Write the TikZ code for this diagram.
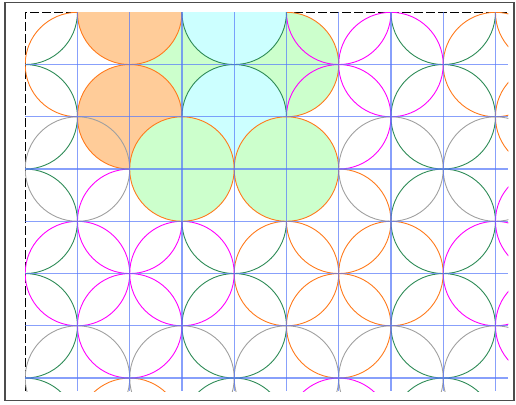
\documentclass[tikz,border=0pt]{standalone}
\definecolor{cO}{RGB}{255,122,28}
\definecolor{cG}{RGB}{46,139,87}
\definecolor{cM}{RGB}{255,0,255}
\definecolor{cY}{RGB}{160,160,160}
\definecolor{fO}{RGB}{255,204,153}
\definecolor{fG}{RGB}{204,255,204}
\definecolor{fC}{RGB}{204,255,255}
\definecolor{gridblue}{RGB}{85,120,250}
\newcommand\gox{25.2}
\newcommand\goy{12.3}
\newcommand\gsp{52.25}
\newcommand\pcirc[3]{\draw[ring,#3] ({\gox+#1*\gsp},{\goy+#2*\gsp}) circle[radius=52.25pt];}
\newcommand\fcirc[4]{\filldraw[ring,draw=#3,fill=#4] ({\gox+#1*\gsp},{\goy+#2*\gsp}) circle[radius=52.25pt];}
\tikzset{
  ring/.style={line width=0.9pt},
  gridline/.style={draw=gridblue, line width=1.2pt, opacity=0.7},
  border/.style={draw=black, line width=1pt, dash pattern=on 9pt off 3pt},
  frame/.style={draw=black!70, line width=1.6pt}
}
\begin{document}
\begin{tikzpicture}[x=1pt,y=-1pt]
\useasboundingbox (0,0) rectangle (516,404);
\draw[frame] (5,2.5) rectangle (514,400.5);
\draw[border] (\gox,391.2) -- (\gox,\goy) -- (508.4,\goy);
\begin{scope}
\clip (\gox,\goy) rectangle (508.4,391.2);
% base strokes
\foreach \i/\j in {0/0,8/0,0/2,8/2,0/4,4/4,8/4,0/6,4/6,8/6,0/8,4/8,8/8} {\pcirc{\i}{\j}{cG}}
\foreach \i/\j in {10/0,1/1,9/1,10/2,6/4,5/5,7/5,6/6,2/8,10/8} {\pcirc{\i}{\j}{cO}}
\foreach \i/\j in {7/1,2/4,10/4,1/5,3/5,9/5,2/6,10/6,6/8} {\pcirc{\i}{\j}{cM}}
\foreach \i/\j in {7/3,9/3,1/7,3/7,5/7,7/7,9/7} {\pcirc{\i}{\j}{cY}}
% green fills, first row
\fcirc{3}{1}{cO}{fG}
\fcirc{5}{1}{cO}{fG}
\pcirc{6}{0}{cM}
\pcirc{6}{2}{cM}
% orange and cyan fills
\fcirc{2}{0}{cO}{fO}
\fcirc{2}{2}{cO}{fO}
\fcirc{4}{0}{cG}{fC}
\fcirc{4}{2}{cG}{fC}
\pcirc{1}{3}{cY}
% green fills, second row
\fcirc{3}{3}{cO}{fG}
\fcirc{5}{3}{cO}{fG}
% grid
\foreach \i in {1,...,9} {\draw[gridline] ({\gox+\i*\gsp},\goy) -- ({\gox+\i*\gsp},391.2);}
\foreach \j in {1,...,7} {\draw[gridline] (\gox,{\goy+\j*\gsp}) -- (508.4,{\goy+\j*\gsp});}
\end{scope}
\end{tikzpicture}
\end{document}
